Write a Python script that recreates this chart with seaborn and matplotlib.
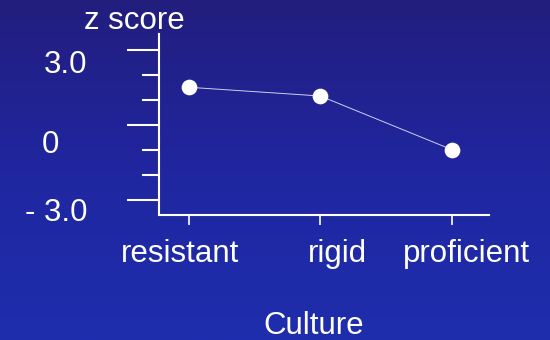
import numpy as np
import pandas as pd
import matplotlib
matplotlib.use("Agg")
import matplotlib.pyplot as plt
from matplotlib.colors import LinearSegmentedColormap
from matplotlib.transforms import ScaledTranslation
import seaborn as sns

# Data
cultures = ["resistant", "rigid", "proficient"]
z_scores = [1.5, 1.15, -1.0]
y_major = [-3.0, 0.0, 3.0]
y_major_labels = ["- 3.0", "0", "3.0"]
y_minor = [-2.0, -1.0, 1.0, 2.0]

sns.set_theme(style="ticks")
plt.rcParams["font.family"] = ["Liberation Sans", "DejaVu Sans"]
plt.rcParams["axes.grid"] = False

W, H = 550, 340
fig = plt.figure(figsize=(W / 100, H / 100), dpi=100)

# Slide-style vertical gradient background
bg = fig.add_axes([0, 0, 1, 1], zorder=0)
grad = np.linspace(0, 1, 256).reshape(-1, 1)
cmap = LinearSegmentedColormap.from_list("slide", ["#231e7e", "#2026a0", "#1e2ead"])
bg.imshow(grad, aspect="auto", cmap=cmap, extent=[0, 1, 0, 1], origin="upper")
bg.set_axis_off()

# Main plot area (pixel box: x 159..489, y 34..214.5)
ax = fig.add_axes([159 / W, (H - 214.5) / H, 330 / W, 180.5 / H], zorder=1)
ax.patch.set_alpha(0)

df = pd.DataFrame({"Culture": cultures, "z": z_scores})
sns.lineplot(data=df, x="Culture", y="z", sort=False, ax=ax,
             color="#cfd0ee", linewidth=0.7, marker="o", markersize=11.3,
             markerfacecolor="white", markeredgecolor="white", markeredgewidth=0)

ax.set_xlim(-0.224, 2.28)
ax.set_ylim(-3.59, 3.63)

sns.despine(ax=ax)
for side in ("left", "bottom"):
    ax.spines[side].set_color("white")
    ax.spines[side].set_linewidth(1.5)

fs = 22.5
ax.set_xticks([0, 1, 2], labels=cultures)
ax.set_yticks(y_major, labels=y_major_labels)
ax.set_yticks(y_minor, minor=True)

ax.tick_params(axis="y", which="major", direction="out", length=23, width=1.5,
               color="white", labelcolor="white", labelsize=fs, pad=28.8)
ax.tick_params(axis="y", which="minor", direction="out", length=12.2, width=1.5,
               color="white")
ax.tick_params(axis="x", which="major", direction="out", length=7.5, width=1.2,
               color="white", labelcolor="white", labelsize=fs, pad=10.3)

ax.set_xlabel("Culture", color="white", fontsize=fs, va="baseline")
ax.xaxis.set_label_coords((314 - 159) / 330, (214.5 - 334.3) / 180.5)
ax.set_ylabel("z score", rotation=0, ha="left", va="baseline", color="white", fontsize=fs)
ax.yaxis.set_label_coords((84 - 159) / 330, (214.5 - 29.3) / 180.5)

# Nudge the hand-placed tick labels (offsets in pixels)
x_shift = [-8.6, 17.1, 14.6]
for lbl, dx in zip(ax.get_xticklabels(), x_shift):
    lbl.set_transform(lbl.get_transform() + ScaledTranslation(dx / 100, 0, fig.dpi_scale_trans))

y_shift = [(0, -21.5), (-27.7, -28.6), (0, -23.3)]
for lbl, (dx, dy) in zip(ax.get_yticklabels(), y_shift):
    lbl.set_va("baseline")
    lbl.set_transform(lbl.get_transform() + ScaledTranslation(dx / 100, dy / 100, fig.dpi_scale_trans))

fig.savefig("out.png", dpi=100)
